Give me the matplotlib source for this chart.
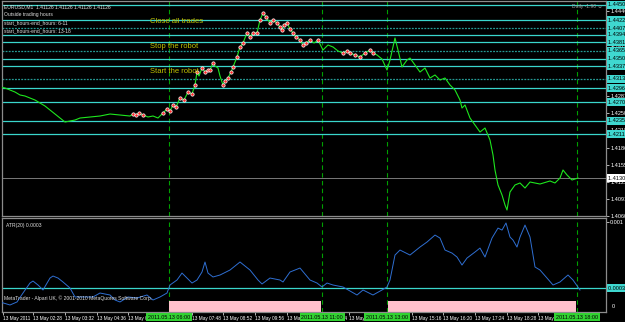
import numpy as np
import matplotlib.pyplot as plt
from matplotlib import transforms

plt.rcParams['font.family'] = ['Liberation Sans', 'DejaVu Sans']

# EURUSD M1 closes (bar index, price)
bars = [0, 10, 20, 30, 40, 50, 60, 70, 80, 90, 100, 110, 120, 130, 140, 150, 160, 180, 200, 220,
        240, 260, 266, 272, 278, 286, 296, 306, 316, 326, 334, 340, 346, 352, 360, 368, 376, 384, 390, 394,
        398, 404, 410, 416, 420, 426, 430, 436, 440, 446, 450, 456, 462, 466, 474, 480, 486, 494, 500, 506,
        514, 520, 526, 532, 540, 546, 554, 560, 564, 568, 574, 580, 586, 592, 600, 606, 612, 620, 628, 636,
        646, 656, 666, 676, 686, 694, 700, 710, 720, 730, 740, 746, 754, 764, 774, 780, 790, 796, 804, 814,
        820, 830, 840, 850, 860, 870, 880, 890, 900, 910, 920, 924, 930, 940, 950, 960, 970, 980, 986, 990,
        996, 1004, 1010, 1014, 1020, 1030, 1040, 1050, 1060, 1080, 1100, 1110, 1120, 1126, 1134, 1144, 1156]
close = [1.42987, 1.42968, 1.42931, 1.42894, 1.42839, 1.42820, 1.42783, 1.42746, 1.42691, 1.42635,
         1.42561, 1.42487, 1.42413, 1.42339, 1.42358, 1.42376, 1.42413, 1.42432, 1.42450, 1.42487,
         1.42469, 1.42450, 1.42487, 1.42469, 1.42506, 1.42469, 1.42432, 1.42450, 1.42413, 1.42506,
         1.42580, 1.42543, 1.42654, 1.42617, 1.42783, 1.42746, 1.42894, 1.42857, 1.43024, 1.43264,
         1.43190, 1.43338, 1.43264, 1.43301, 1.43301, 1.43431, 1.43375, 1.43338, 1.43190, 1.43024,
         1.43098, 1.43153, 1.43264, 1.43357, 1.43542, 1.43727, 1.43801, 1.43986, 1.43912, 1.43986,
         1.43986, 1.44226, 1.44356, 1.44282, 1.44171, 1.44226, 1.44171, 1.44097, 1.44041, 1.44134,
         1.44171, 1.44060, 1.43986, 1.43912, 1.43856, 1.43764, 1.43801, 1.43856, 1.43801, 1.43856,
         1.43671, 1.43764, 1.43727, 1.43653, 1.43616, 1.43653, 1.43616, 1.43579, 1.43542, 1.43616,
         1.43671, 1.43616, 1.43579, 1.43505, 1.43301, 1.43486, 1.43893, 1.43671, 1.43357, 1.43486,
         1.43523, 1.43394, 1.43264, 1.43338, 1.43153, 1.43209, 1.43116, 1.43153, 1.43024, 1.42931,
         1.42746, 1.42598, 1.42654, 1.42413, 1.42284, 1.42154, 1.42228, 1.42006, 1.41729, 1.41451,
         1.41174, 1.40989, 1.40804, 1.40711, 1.41044, 1.41174, 1.41211, 1.41118, 1.41229, 1.41192,
         1.41248, 1.41211, 1.41303, 1.41451, 1.41359, 1.41266, 1.41303]

# bar windows where the robot had trades open
trade_from = [266, 324, 404, 446, 474, 536, 580, 634, 686, 740]
trade_to = [286, 394, 426, 466, 534, 574, 620, 640, 734, 750]

# ATR(20)
atr_bars = [0, 20, 34, 46, 60, 66, 76, 86, 100, 106, 116, 126, 140, 150, 166, 186, 200, 220, 230, 240,
            256, 274, 294, 306, 320, 334, 340, 354, 364, 374, 384, 394, 404, 410, 416, 426, 440, 460, 480, 500,
            516, 524, 540, 560, 566, 580, 600, 620, 634, 644, 654, 666, 686, 714, 726, 746, 764, 774, 780, 790,
            800, 820, 840, 854, 870, 880, 890, 904, 914, 924, 934, 950, 960, 970, 984, 996, 1004, 1012, 1020, 1026,
            1034, 1040, 1050, 1060, 1070, 1080, 1094, 1106, 1120, 1136, 1146, 1160]
atr_x1e4 = [1.52, 1.20, 1.52, 2.47, 3.53, 3.74, 3.32, 2.79, 4.06, 4.27,
            4.06, 3.64, 3.00, 2.05, 2.05, 2.05, 2.47, 2.26, 1.73, 1.52,
            2.05, 1.94, 2.26, 1.73, 2.05, 2.47, 3.32, 3.85, 4.59, 4.06,
            3.53, 3.85, 4.70, 5.76, 4.59, 4.17, 4.38, 4.91, 5.76, 4.91,
            3.85, 3.43, 4.06, 3.85, 3.64, 4.70, 5.12, 3.85, 3.53, 3.11,
            3.53, 3.32, 3.11, 2.26, 2.79, 2.26, 2.79, 3.11, 3.85, 6.50,
            7.03, 6.50, 7.35, 7.88, 8.62, 8.30, 7.03, 6.71, 6.29, 5.44,
            6.18, 6.82, 7.24, 6.29, 8.30, 9.36, 9.15, 9.90, 8.41, 8.09,
            7.35, 8.41, 9.68, 8.41, 5.23, 4.91, 4.06, 3.32, 3.64, 4.38,
            3.85, 2.79]
atr_level = 0.00030

# horizontal price levels drawn on the chart
levels = [1.44504, 1.44226, 1.44078, 1.43949, 1.43819, 1.43653, 1.43505,
          1.43375, 1.43135, 1.42968, 1.42709, 1.42358, 1.42117]
level_dotted = [False, False, True, False, False, True, False,
                False, True, False, False, False, False]

# trading sessions (vertical lines + pink bars in the ATR pane)
session_lines = [338, 644, 774, 1154]
session_labels = ["2011.05.13 06:00", "2011.05.13 11:00", "2011.05.13 13:00", "2011.05.13 18:00"]
session_start = [338, 776]
session_end = [642, 1152]

time_ticks = [6, 66, 130, 194, 256, 320, 384, 446, 510, 574, 636, 698, 760, 824, 886, 950, 1014, 1076, 1140]
time_labels = ["13 May 2011", "13 May 02:28", "13 May 03:32", "13 May 04:36", "13 May 05:40",
               "13 May 06:44", "13 May 07:48", "13 May 08:52", "13 May 09:56", "13 May 11:00",
               "13 May 12:04", "13 May 13:08", "13 May 14:12", "13 May 15:16", "13 May 16:20",
               "13 May 17:24", "13 May 18:28", "13 May 19:32", "13 May 20:36"]

price_ticks = [1.406 + k * 0.038 / 12 for k in range(13)]

header = ["EURUSD,M1  1.41126 1.41126 1.41126 1.41126",
          "Outside trading hours",
          "start_hours-end_hours: 6-11",
          "start_hours-end_hours: 13-18"]
notes = ["Close all trades", "Stop the robot", "Start the robot"]

# ---- figure
W, H = 625, 322
fig = plt.figure(figsize=(W / 100, H / 100), dpi=100, facecolor='black')
ax = fig.add_axes([2 / W, 1 - 216 / H, 604 / W, 215 / H])
atr_ax = fig.add_axes([2 / W, 10 / H, 604 / W, 94 / H], sharex=ax)

grey = '#8c8c8c'
cyan = '#3ad6cc'
for a in (ax, atr_ax):
    a.set_facecolor('black')
    for s in a.spines.values():
        s.set_color(grey)
        s.set_linewidth(0.9)
    for xb in session_lines:
        a.axvline(xb, color='#00a000', lw=0.8, dashes=(4, 3), zorder=1)

ax.set_xlim(4, 1212)
ax.set_ylim(1.40600, 1.44578)

# levels
for lv, dot in zip(levels, level_dotted):
    if dot:
        ax.axhline(lv, color='#259a94', lw=0.9, dashes=(1.5, 1), zorder=2)
    else:
        ax.axhline(lv, color=cyan, lw=0.9, zorder=2)

# last price line
ax.axhline(close[-1], color=grey, lw=0.6, zorder=2)

ax.plot(bars, close, color='#1ee61e', lw=0.8, zorder=3)

bars_a = np.array(bars)
close_a = np.array(close)
mask = np.zeros(len(bars), bool)
for a0, a1 in zip(trade_from, trade_to):
    mask |= (bars_a >= a0) & (bars_a <= a1)
ax.plot(bars_a[mask], close_a[mask], 'o', ms=2.4, mfc='#ff2a2a', mec='white', mew=0.5, zorder=4)

# right price scale
ax.yaxis.tick_right()
ax.set_yticks(price_ticks)
ax.set_yticklabels([f"{v:.5f}" for v in price_ticks])
ax.tick_params(axis='y', colors='white', labelsize=4, length=2, pad=1, width=0.5)
ax.tick_params(axis='x', bottom=False, labelbottom=False)

ytrans = transforms.blended_transform_factory(ax.transAxes, ax.transData)
for lv in levels:
    ax.text(1.004, lv, f"{lv:.5f}   ", transform=ytrans, fontsize=4, color='black',
            ha='left', va='center', zorder=6, clip_on=False,
            bbox=dict(boxstyle='square,pad=0.25', fc='#3fd8d0', ec='none'))
ax.text(1.004, close[-1], f"{close[-1]:.5f}   ", transform=ytrans, fontsize=4, color='black',
        ha='left', va='center', zorder=6, clip_on=False,
        bbox=dict(boxstyle='square,pad=0.25', fc='white', ec='none'))

for i, line in enumerate(header):
    ax.text(0.004, 0.985 - i * 0.037, line, transform=ax.transAxes, fontsize=3.6,
            color='#e0e0e0', ha='left', va='top')
for i, note in enumerate(notes):
    ax.text(150 * 2, levels[1] - 0.0002 - i * 0.00462, note, fontsize=5.5, color='#c2c200',
            ha='left', va='center', zorder=5)
ax.text(0.995, 0.985, "Daily -1.90 \u263a", transform=ax.transAxes, fontsize=3.6,
        color='#a0a0a0', ha='right', va='top')

# ---- ATR pane
atr_vals = np.array(atr_x1e4) * 1e-4
atr_ax.set_ylim(0.0000456, 0.001043)
for s0, s1 in zip(session_start, session_end):
    atr_ax.axvspan(s0, s1, ymin=0.0, ymax=11 / 94, color='#ffc0cb', zorder=1, lw=0)
atr_ax.axhline(atr_level, color=cyan, lw=0.9, zorder=2)
atr_ax.plot(atr_bars, atr_vals, color='#2f6fd2', lw=0.7, zorder=3)

atr_ax.yaxis.tick_right()
atr_ax.set_yticks([0.001])
atr_ax.set_yticklabels(["0.001"])
atr_ax.tick_params(axis='y', colors='white', labelsize=4, length=2, pad=1, width=0.5)
ytrans2 = transforms.blended_transform_factory(atr_ax.transAxes, atr_ax.transData)
atr_ax.text(1.004, atr_level, f"{atr_level:.5f}   ", transform=ytrans2, fontsize=4, color='black',
            ha='left', va='center', zorder=6, clip_on=False,
            bbox=dict(boxstyle='square,pad=0.25', fc='#3fd8d0', ec='none'))
atr_ax.text(1.01, 0.03, "0", transform=atr_ax.transAxes, fontsize=4, color='white',
            ha='left', va='bottom')
atr_ax.text(0.006, 0.95, "ATR(20) 0.0003", transform=atr_ax.transAxes, fontsize=3.6,
            color='#e0e0e0', ha='left', va='top')
atr_ax.text(0.004, 0.15, "MetaTrader - Alpari UK, \u00a9 2001-2010 MetaQuotes Software Corp.",
            transform=atr_ax.transAxes, fontsize=3.6, color='#e0e0e0', ha='left', va='center', zorder=5)

atr_ax.set_xticks(time_ticks)
atr_ax.set_xticklabels(time_labels, ha='left')
atr_ax.tick_params(axis='x', colors='white', labelsize=3.4, length=2, pad=1, width=0.5)
sess_trans = transforms.blended_transform_factory(atr_ax.transData, atr_ax.transAxes)
for xb, lab in zip(session_lines, session_labels):
    atr_ax.text(xb, -0.03, lab, transform=sess_trans,
                fontsize=3.9, color='black', ha='center', va='top', zorder=6, clip_on=False,
                bbox=dict(boxstyle='square,pad=0.3', fc='#32d232', ec='none'))

fig.savefig('out.png', dpi=100, facecolor='black')
